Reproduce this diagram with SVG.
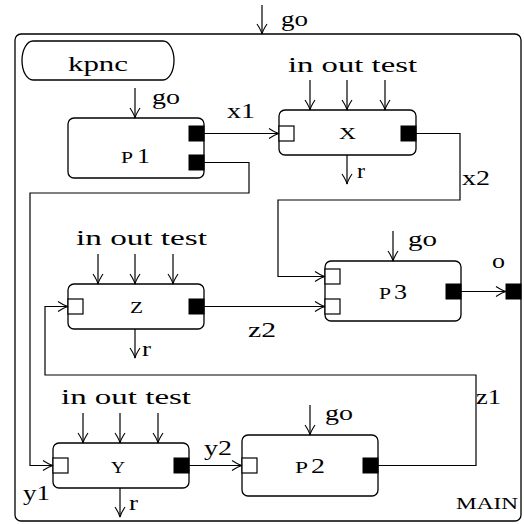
<svg xmlns="http://www.w3.org/2000/svg" width="524" height="524" viewBox="0 0 524 524">
<defs>
<marker id="ah" viewBox="0 0 12 12" refX="11" refY="6" markerWidth="12" markerHeight="12" markerUnits="userSpaceOnUse" orient="auto">
<path d="M1,1 Q7,5 11,6 Q7,7 1,11" fill="none" stroke="#000" stroke-width="1.1"/>
</marker>
<style>
text{font-family:"Liberation Serif","Times New Roman",serif;font-size:22px;fill:#000}
.sc{font-size:17px}
.box{fill:#fff;stroke:#000;stroke-width:1.3}
.pin{fill:#fff;stroke:#000;stroke-width:1.2}
.pout{fill:#000;stroke:#000;stroke-width:1}
.c{fill:none;stroke:#000;stroke-width:1.2}
.a{fill:none;stroke:#000;stroke-width:1.2;marker-end:url(#ah)}
</style>
</defs>
<rect width="524" height="524" fill="#fff"/>
<g id="MAIN">
<rect class="box" x="15" y="34" width="506" height="487" rx="6"/>
<text x="456" y="509" class="sc" textLength="62" lengthAdjust="spacingAndGlyphs">MAIN</text>
<rect class="pout" x="506" y="284" width="15" height="15"/>
<text x="492" y="268" font-size="20" textLength="13" lengthAdjust="spacingAndGlyphs">o</text>
</g>
<g id="kpnc">
<rect class="box" x="22" y="41" width="152" height="39" rx="11" ry="19.5"/>
<text x="68" y="71" textLength="60" lengthAdjust="spacingAndGlyphs">kpnc</text>
</g>
<g id="P1">
<rect class="box" x="68" y="118" width="136" height="60" rx="6"/>
<rect class="pout" x="189" y="126" width="15" height="15"/>
<rect class="pout" x="189" y="155" width="15" height="15"/>
<text y="163"><tspan x="121" class="sc" textLength="12" lengthAdjust="spacingAndGlyphs">P</tspan><tspan x="137" textLength="13" lengthAdjust="spacingAndGlyphs">1</tspan></text>
</g>
<g id="X">
<rect class="box" x="279" y="110" width="137" height="45" rx="6"/>
<rect class="pin" x="279" y="126" width="15" height="15"/>
<rect class="pout" x="401" y="126" width="15" height="15"/>
<text x="339" y="139" class="sc" textLength="17" lengthAdjust="spacingAndGlyphs">X</text>
</g>
<g id="P3">
<rect class="box" x="325" y="261" width="136" height="60" rx="6"/>
<rect class="pin" x="325" y="269" width="15" height="15"/>
<rect class="pin" x="325" y="299" width="15" height="15"/>
<rect class="pout" x="446" y="284" width="15" height="15"/>
<text y="299"><tspan x="379" class="sc" textLength="12" lengthAdjust="spacingAndGlyphs">P</tspan><tspan x="394" textLength="13" lengthAdjust="spacingAndGlyphs">3</tspan></text>
</g>
<g id="Z">
<rect class="box" x="68" y="284" width="136" height="45" rx="6"/>
<rect class="pin" x="68" y="299" width="15" height="15"/>
<rect class="pout" x="189" y="299" width="15" height="15"/>
<text x="130" y="313" class="sc" textLength="13" lengthAdjust="spacingAndGlyphs">Z</text>
</g>
<g id="Y">
<rect class="box" x="53" y="443" width="136" height="45" rx="6"/>
<rect class="pin" x="53" y="458" width="15" height="15"/>
<rect class="pout" x="174" y="458" width="15" height="15"/>
<text x="111" y="473" class="sc" textLength="14" lengthAdjust="spacingAndGlyphs">Y</text>
</g>
<g id="P2">
<rect class="box" x="242" y="435" width="136" height="61" rx="6"/>
<rect class="pin" x="242" y="458" width="15" height="15"/>
<rect class="pout" x="363" y="458" width="15" height="15"/>
<text y="473"><tspan x="295" class="sc" textLength="13" lengthAdjust="spacingAndGlyphs">P</tspan><tspan x="311" textLength="14" lengthAdjust="spacingAndGlyphs">2</tspan></text>
</g>
<g id="connectors">
<path class="a" d="M262,5 V34"/>
<text x="281" y="26" textLength="27" lengthAdjust="spacingAndGlyphs">go</text>
<path class="a" d="M135,88 V118"/>
<text x="152" y="104" textLength="28" lengthAdjust="spacingAndGlyphs">go</text>
<path class="a" d="M204,133.5 H279"/>
<text x="227" y="118" textLength="28" lengthAdjust="spacingAndGlyphs">x1</text>
<path class="a" d="M204,162.5 H249 V193 H30 V465.5 H53"/>
<text x="23" y="500" textLength="27" lengthAdjust="spacingAndGlyphs">y1</text>
<path class="a" d="M310,80 V110"/>
<path class="a" d="M347,80 V110"/>
<path class="a" d="M385,80 V110"/>
<text x="288" y="72" textLength="129" lengthAdjust="spacingAndGlyphs">in out test</text>
<path class="a" d="M347,155 V184"/>
<text x="357" y="178" textLength="8" lengthAdjust="spacingAndGlyphs">r</text>
<path class="a" d="M416,133.5 H460 V200 H278 V276.5 H325"/>
<text x="462" y="185" textLength="28" lengthAdjust="spacingAndGlyphs">x2</text>
<path class="a" d="M393,231 V261"/>
<text x="408" y="246" textLength="29" lengthAdjust="spacingAndGlyphs">go</text>
<path class="a" d="M461,291.5 H506"/>
<path class="a" d="M98,254 V284"/>
<path class="a" d="M135,254 V284"/>
<path class="a" d="M173,254 V284"/>
<text x="76" y="245" textLength="131" lengthAdjust="spacingAndGlyphs">in out test</text>
<path class="a" d="M135,329 V358"/>
<text x="142" y="356" textLength="9" lengthAdjust="spacingAndGlyphs">r</text>
<path class="a" d="M204,306.5 H325"/>
<text x="248" y="337" textLength="28" lengthAdjust="spacingAndGlyphs">z2</text>
<path class="a" d="M378,465.5 H476 V375 H45 V306.5 H68"/>
<text x="476" y="404" textLength="25" lengthAdjust="spacingAndGlyphs">z1</text>
<path class="a" d="M83,413 V443"/>
<path class="a" d="M120,413 V443"/>
<path class="a" d="M158,413 V443"/>
<text x="61" y="404" textLength="130" lengthAdjust="spacingAndGlyphs">in out test</text>
<path class="a" d="M120,488 V517"/>
<text x="129" y="510" textLength="9" lengthAdjust="spacingAndGlyphs">r</text>
<path class="a" d="M189,465.5 H242"/>
<text x="204" y="455" textLength="28" lengthAdjust="spacingAndGlyphs">y2</text>
<path class="a" d="M310,405 V435"/>
<text x="325" y="420" textLength="28" lengthAdjust="spacingAndGlyphs">go</text>
</g>
</svg>
